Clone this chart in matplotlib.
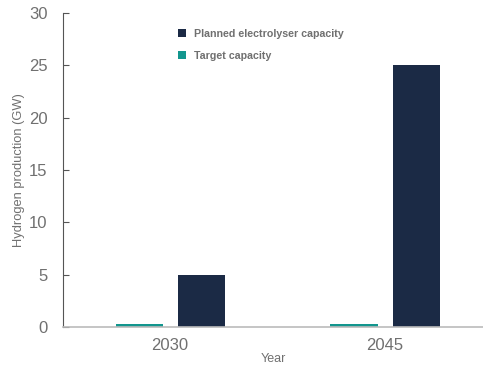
import numpy as np
import matplotlib.pyplot as plt

plt.rcParams['font.family'] = ['Liberation Sans', 'DejaVu Sans']

years = ["2030", "2045"]
target = [0.3, 0.3]
planned = [5.0, 25.0]

navy = "#1b2a45"
teal = "#12968e"
grey = "#707070"

fig = plt.figure(figsize=(4.83, 3.65), dpi=100)
ax = fig.add_axes([0.1304, 0.1041, 0.8696, 0.8603])

x = np.arange(len(years))
w = 0.219
ax.bar(x - 0.144, target, w, color=teal, label="Target capacity")
ax.bar(x + 0.147, planned, w, color=navy, label="Planned electrolyser capacity")

ax.set_xlim(-0.498, 1.456)
ax.set_ylim(0, 30)
ax.set_yticks([0, 5, 10, 15, 20, 25, 30])
ax.set_xticks(x)
ax.set_xticklabels(years)

for s in ["top", "right"]:
    ax.spines[s].set_visible(False)
ax.spines["left"].set_color("#555555")
ax.spines["left"].set_linewidth(0.8)
ax.spines["bottom"].set_color("#bbbbbb")
ax.spines["bottom"].set_linewidth(1.2)

ax.tick_params(axis="y", direction="in", length=4, color="#555555",
               labelsize=12, labelcolor=grey, pad=11)
ax.tick_params(axis="x", length=0, labelsize=12, labelcolor=grey, pad=8)

ax.set_ylabel("Hydrogen production (GW)", fontsize=9.3, color=grey, labelpad=3)
ax.set_xlabel("Year", fontsize=9, color=grey, labelpad=0)

h, l = ax.get_legend_handles_labels()
leg = ax.legend(h[::-1], l[::-1], loc="upper left", bbox_to_anchor=(0.25, 0.98),
                frameon=False, handlelength=0.75, handleheight=0.75,
                labelspacing=1.1, handletextpad=0.8,
                prop={"size": 7.7, "weight": "bold"})
for t in leg.get_texts():
    t.set_color(grey)

fig.savefig("out.png", dpi=100)
